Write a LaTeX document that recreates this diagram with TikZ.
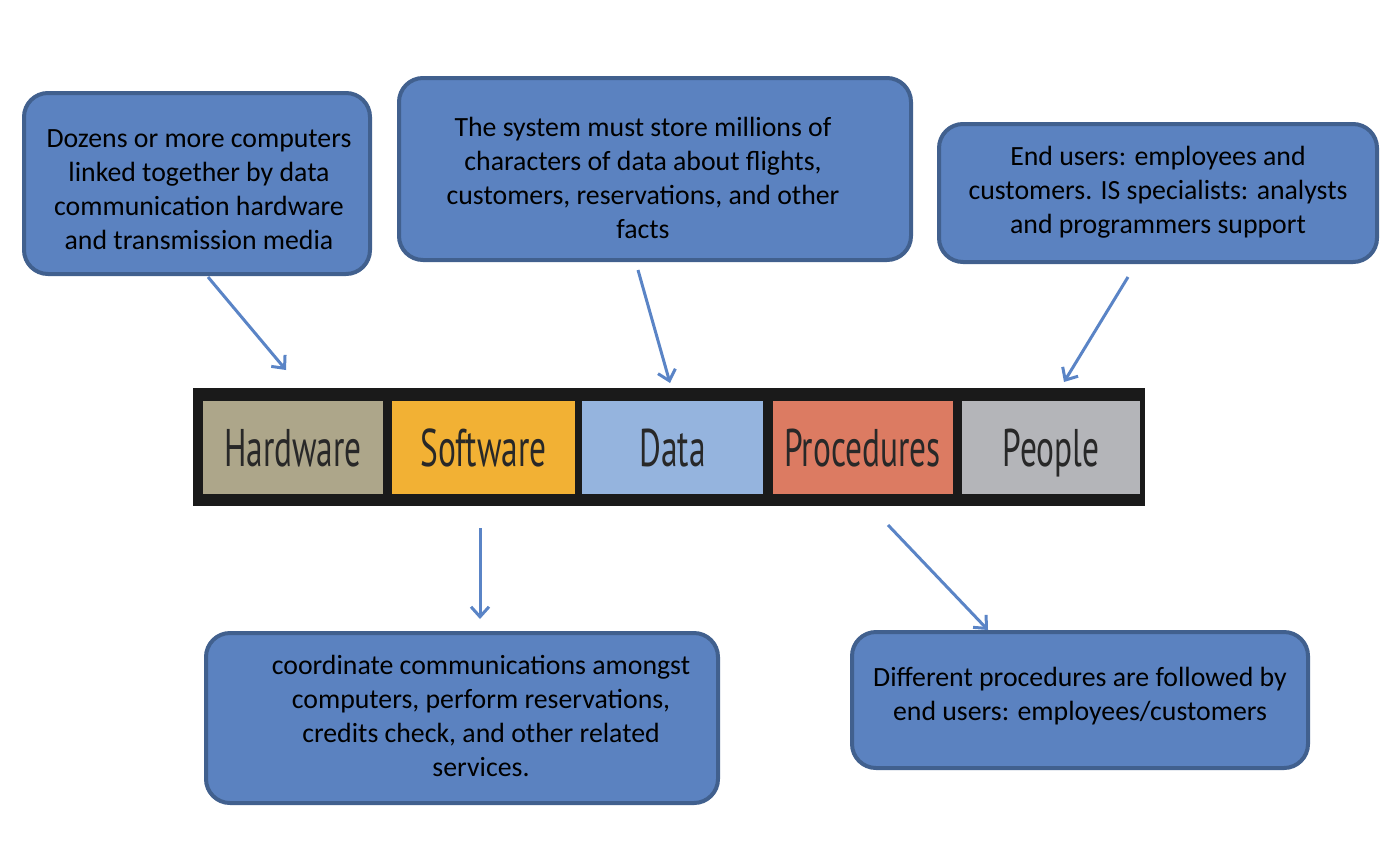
\documentclass[tikz,border=0pt]{standalone}
\usepackage{fontspec}
\setmainfont{Carlito}
\newfontfamily\stripfont[FakeStretch=0.63]{PT Sans}
\usetikzlibrary{arrows.meta}

\definecolor{boxfill}{RGB}{91,130,192}
\definecolor{boxedge}{RGB}{65,96,142}
\definecolor{arrowblue}{RGB}{90,132,198}
\definecolor{hwcol}{RGB}{173,166,138}
\definecolor{swcol}{RGB}{242,177,52}
\definecolor{datacol}{RGB}{149,180,222}
\definecolor{proccol}{RGB}{220,123,98}
\definecolor{peoplecol}{RGB}{180,181,185}
\definecolor{stripblack}{RGB}{26,26,26}
\definecolor{labelgray}{RGB}{40,40,40}

\tikzset{
  descbox/.style={draw=boxedge, line width=4pt, fill=boxfill,
    rounded corners=24pt, inner sep=0pt},
  desctext/.style={align=center, font=\fontsize{27.8}{34}\selectfont,
    text=black, inner sep=0pt},
  cell/.style={minimum width=#1, minimum height=93pt, inner sep=0pt,
    text height=38pt, text depth=0pt,
    text=labelgray, font=\stripfont\fontsize{53}{53}\selectfont},
  pointer/.style={draw=arrowblue, line width=3pt,
    -{Straight Barb[length=10pt, width=18pt, line width=3pt]}}
}

\begin{document}
\begin{tikzpicture}[x=1pt, y=-1pt]
\useasboundingbox (0,0) rectangle (1383,865);

% component strip
\node[fill=stripblack, minimum width=952pt, minimum height=118pt, inner sep=0pt]
  (strip) at (669,447) {};
\node[cell=180pt, fill=hwcol]     (hw)   at (293,447.5) {Hardware};
\node[cell=183pt, fill=swcol]     (sw)   at (483.5,447.5) {Software};
\node[cell=181pt, fill=datacol]   (data) at (672.5,447.5) {Data};
\node[cell=180pt, fill=proccol]   (proc) at (862.5,447.5) {Procedures};
\node[cell=178pt, fill=peoplecol] (ppl)  at (1051,447.5) {People};

% description boxes
\node[descbox, minimum width=346pt, minimum height=181pt] (hwbox) at (197,183.5) {};
\node[desctext] (hwtext) at (199,190)
  {Dozens or more computers\\linked together by data\\communication hardware\\and transmission media};

\node[descbox, minimum width=512pt, minimum height=182pt] (databox) at (655,169) {};
\node[desctext] (datatext) at (643,178)
  {The system must store millions of\\characters of data about flights,\\customers, reservations, and other\\facts};

\node[descbox, minimum width=438pt, minimum height=138pt] (pplbox) at (1158,193) {};
\node[desctext] (ppltext) at (1158,192)
  {End users: employees and\\customers. IS specialists: analysts\\and programmers support};

\node[descbox, minimum width=512pt, minimum height=170pt] (swbox) at (462,718) {};
\node[desctext] (swtext) at (481,716)
  {coordinate communications amongst\\computers, perform reservations,\\credits check, and other related\\services.};

\node[descbox, minimum width=456pt, minimum height=136pt] (procbox) at (1080,700) {};
\node[desctext] (proctext) at (1080,696)
  {Different procedures are followed by\\end users: employees/customers};

% pointer ends
\coordinate (a1s) at (208,277);  \coordinate (a1e) at (286,370);
\coordinate (a2s) at (638,270);  \coordinate (a2e) at (670,383);
\coordinate (a3s) at (1128,277); \coordinate (a3e) at (1064,382);
\coordinate (a4s) at (480,528);  \coordinate (a4e) at (480,619);
\coordinate (a5s) at (888,525);  \coordinate (a5e) at (988,630);

\draw[pointer] (a1s) -- (a1e);
\draw[pointer] (a2s) -- (a2e);
\draw[pointer] (a3s) -- (a3e);
\draw[pointer] (a4s) -- (a4e);
\draw[pointer] (a5s) -- (a5e);
\end{tikzpicture}
\end{document}
